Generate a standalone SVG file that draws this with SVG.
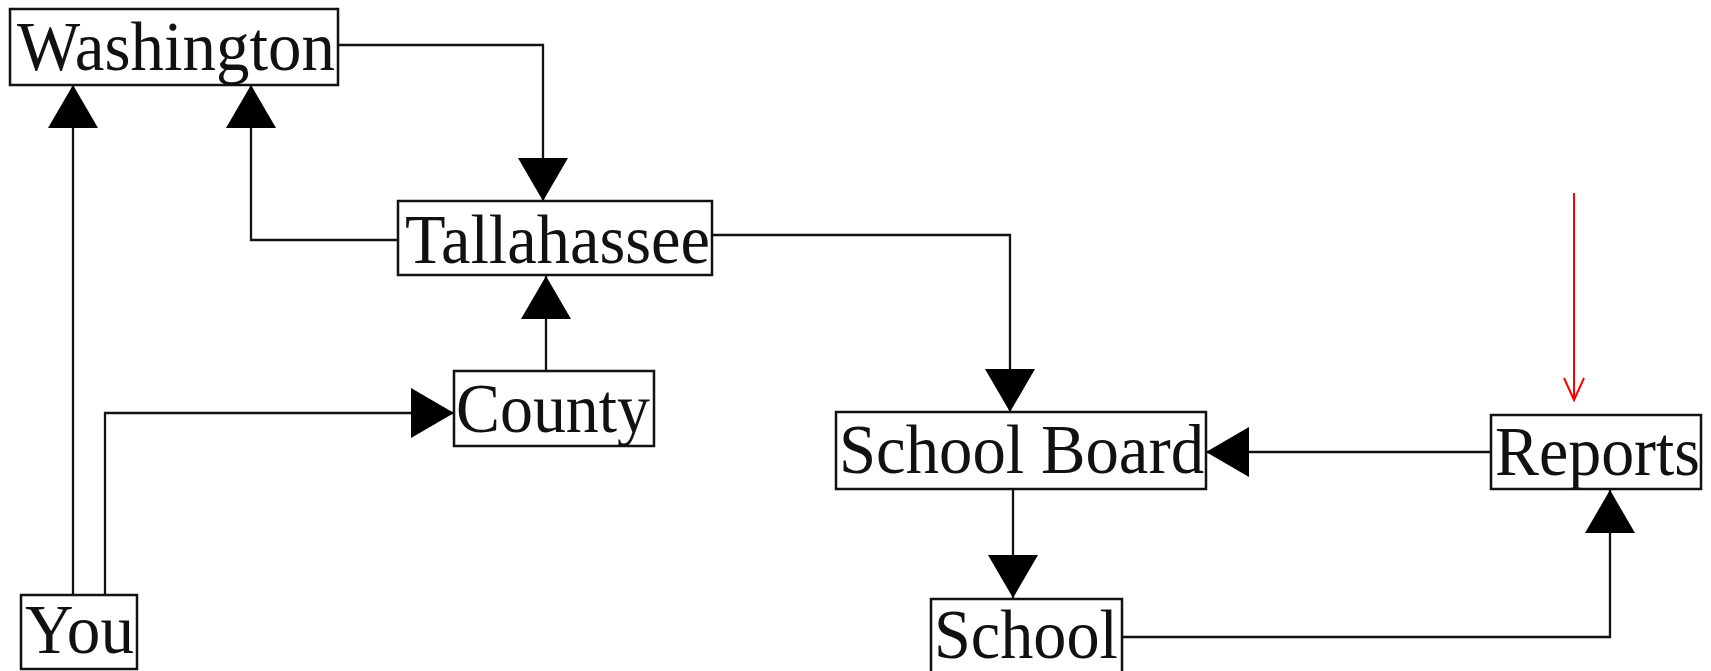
<svg xmlns="http://www.w3.org/2000/svg" width="1711" height="671" viewBox="0 0 1711 671">
<style>
.box{fill:#fff;stroke:#111;stroke-width:2.5}
.lbl{font-family:"Liberation Serif","Times New Roman",serif;font-size:70px;fill:#111}
.edge{fill:none;stroke:#111;stroke-width:2.3}
.red{fill:none;stroke:#f00;stroke-width:2}
</style>
<defs>
<marker id="tri" markerUnits="userSpaceOnUse" markerWidth="44" markerHeight="50" refX="43" refY="25" orient="auto">
<path d="M0,0 L43,25 L0,50 z" fill="#000"/>
</marker>
<marker id="open" markerUnits="userSpaceOnUse" markerWidth="26" markerHeight="24" refX="23" refY="12" orient="auto">
<path d="M1,2 L23,12 L1,22" fill="none" stroke="#f00" stroke-width="2"/>
</marker>
</defs>
<rect width="1711" height="671" fill="#fff"/>
<g id="connectors">
<path class="edge" d="M338,45 H543 V201" marker-end="url(#tri)"/>
<path class="edge" d="M398,240 H251 V85" marker-end="url(#tri)"/>
<path class="edge" d="M73,595 V85" marker-end="url(#tri)"/>
<path class="edge" d="M105,595 V413 H454" marker-end="url(#tri)"/>
<path class="edge" d="M546,371 V276" marker-end="url(#tri)"/>
<path class="edge" d="M712,235 H1010 V412" marker-end="url(#tri)"/>
<path class="edge" d="M1491,452 H1206" marker-end="url(#tri)"/>
<path class="edge" d="M1013,489 V598" marker-end="url(#tri)"/>
<path class="edge" d="M1122,637 H1610 V490" marker-end="url(#tri)"/>
<path class="red" d="M1574,193 V400" marker-end="url(#open)"/>
</g>
<g id="washington"><rect class="box" x="10" y="9" width="328" height="76"/><text class="lbl" x="17" y="70" textLength="318" lengthAdjust="spacingAndGlyphs">Washington</text></g>
<g id="tallahassee"><rect class="box" x="398" y="201" width="314" height="74"/><text class="lbl" x="405" y="263" textLength="305" lengthAdjust="spacingAndGlyphs">Tallahassee</text></g>
<g id="county"><rect class="box" x="454" y="371" width="200" height="75"/><text class="lbl" x="456" y="432" textLength="194" lengthAdjust="spacingAndGlyphs">County</text></g>
<g id="you"><rect class="box" x="21" y="595" width="116" height="74"/><text class="lbl" x="25" y="653" textLength="109" lengthAdjust="spacingAndGlyphs">You</text></g>
<g id="school-board"><rect class="box" x="836" y="412" width="370" height="77"/><text class="lbl" x="839" y="473" textLength="365" lengthAdjust="spacingAndGlyphs">School Board</text></g>
<g id="reports"><rect class="box" x="1491" y="415" width="210" height="74"/><text class="lbl" x="1495" y="475" textLength="205" lengthAdjust="spacingAndGlyphs">Reports</text></g>
<g id="school"><rect class="box" x="931" y="599" width="191" height="80"/><text class="lbl" x="934" y="658" textLength="184" lengthAdjust="spacingAndGlyphs">School</text></g>
</svg>
